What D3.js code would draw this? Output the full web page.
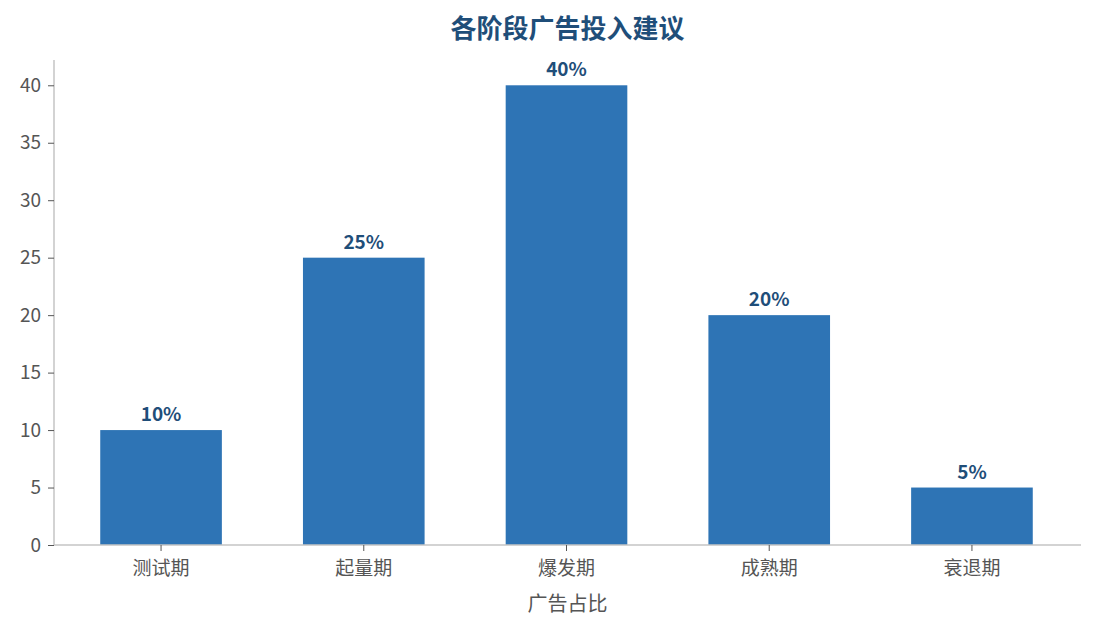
<!DOCTYPE html>
<html>
<head>
<meta charset="utf-8">
<script src="https://cdn.jsdelivr.net/npm/d3@7"></script>
<style>
    body { margin: 0; background: #fff; }
    #chart { width: 1094px; height: 629px; }
    text { font-family: "Noto Sans CJK SC", "Noto Sans", sans-serif; }
</style>
</head>
<body>
<div id="chart"></div>
<script>
const stages = ['测试期', '起量期', '爆发期', '成熟期', '衰退期'];
const shares = [10, 25, 40, 20, 5];
const yTicks = [0, 5, 10, 15, 20, 25, 30, 35, 40];

const width = 1094;
const height = 629;
const margin = { top: 60, right: 13, bottom: 84, left: 54 };

const svg = d3.select('#chart')
    .append('svg')
    .attr('width', width)
    .attr('height', height);

const x = d3.scaleBand()
    .domain(stages)
    .range([margin.left - 1, width - margin.right - 1])
    .paddingInner(0.4)
    .paddingOuter(0.233);

const y = d3.scaleLinear()
    .domain([0, 42.2])
    .range([height - margin.bottom, margin.top]);

// bars
svg.selectAll('rect.bar')
    .data(stages)
    .enter()
    .append('rect')
    .attr('class', 'bar')
    .attr('x', d => x(d))
    .attr('y', (d, i) => y(shares[i]))
    .attr('width', x.bandwidth())
    .attr('height', (d, i) => y(0) - y(shares[i]))
    .attr('fill', '#2e74b5');

// value labels
svg.selectAll('text.value')
    .data(stages)
    .enter()
    .append('text')
    .attr('class', 'value')
    .attr('x', d => x(d) + x.bandwidth() / 2)
    .attr('y', (d, i) => y(shares[i]) - 9)
    .attr('text-anchor', 'middle')
    .attr('fill', '#1f4e79')
    .attr('font-size', 19)
    .attr('font-weight', 'bold')
    .text((d, i) => shares[i] + '%');

// axes
const yAxis = svg.append('g')
    .attr('transform', `translate(${margin.left},0)`)
    .call(d3.axisLeft(y).tickValues(yTicks).tickSize(6).tickPadding(7));

const xAxis = svg.append('g')
    .attr('transform', `translate(0,${height - margin.bottom})`)
    .call(d3.axisBottom(x).tickSize(6).tickPadding(11));

[yAxis, xAxis].forEach(ax => {
    ax.select('.domain').attr('stroke', '#c4c4c4').attr('stroke-width', 1.5);
    ax.selectAll('.tick line').attr('stroke', '#555');
    ax.selectAll('.tick text')
        .attr('fill', '#555')
        .attr('font-size', 19)
        .style('font-family', '"Noto Sans CJK SC", "Noto Sans", sans-serif');
});
// axisLeft draws outer ticks on the domain path; keep only the spine
yAxis.select('.domain').attr('d', `M0,${y(42.2)}V${y(0)}`);
xAxis.select('.domain').attr('d', `M${margin.left},0H${width - margin.right}`);

// title
svg.append('text')
    .attr('x', (margin.left + width - margin.right) / 2)
    .attr('y', 38)
    .attr('text-anchor', 'middle')
    .attr('fill', '#1f4e79')
    .attr('font-size', 26)
    .attr('font-weight', 'bold')
    .text('各阶段广告投入建议');

// x label
svg.append('text')
    .attr('x', (margin.left + width - margin.right) / 2)
    .attr('y', 611)
    .attr('text-anchor', 'middle')
    .attr('fill', '#555')
    .attr('font-size', 20)
    .text('广告占比');
</script>
</body>
</html>
